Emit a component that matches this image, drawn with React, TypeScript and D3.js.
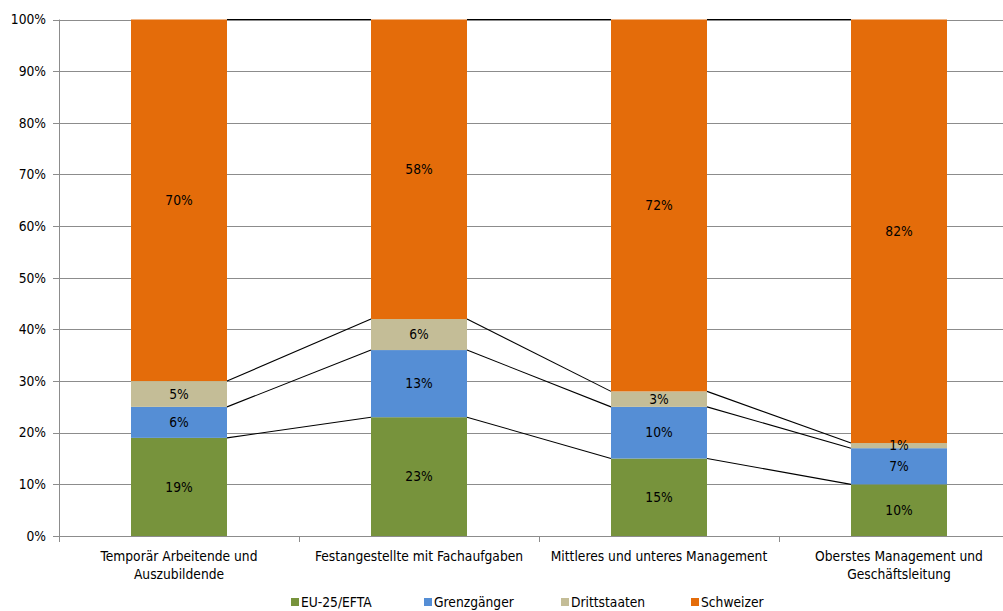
import React from "react";
import * as d3 from "d3";

const categories: string[][] = [
  ["Temporär Arbeitende und", "Auszubildende"],
  ["Festangestellte mit Fachaufgaben"],
  ["Mittleres und unteres Management"],
  ["Oberstes Management und", "Geschäftsleitung"],
];

const seriesNames = ["EU-25/EFTA", "Grenzgänger", "Drittstaaten", "Schweizer"];
const seriesColors = ["#77933C", "#558ED5", "#C4BD97", "#E46C0A"];

const euEfta = [19, 23, 15, 10];
const grenzgaenger = [6, 13, 10, 7];
const drittstaaten = [5, 6, 3, 1];
const schweizer = [70, 58, 72, 82];

const yTicks = [0, 10, 20, 30, 40, 50, 60, 70, 80, 90, 100];

const W = 1003;
const H = 611;
const left = 59;
const band = 240;
const top = 19.5;
const bottom = 536;
const fs = 13.7;
const font = "Tahoma, 'DejaVu Sans Condensed', 'DejaVu Sans', sans-serif";

export default function App() {
  const idx = categories.map((_, i) => String(i));
  const x = d3
    .scaleBand<string>()
    .domain(idx)
    .range([left, left + band * idx.length])
    .paddingInner(0.6)
    .paddingOuter(0.3);
  const y = d3.scaleLinear().domain([0, 100]).range([bottom, top]);

  const rows = idx.map((_, i) => ({
    key: i,
    s0: euEfta[i],
    s1: grenzgaenger[i],
    s2: drittstaaten[i],
    s3: schweizer[i],
  }));
  const stack = d3.stack<any>().keys(["s0", "s1", "s2", "s3"]);
  const layers = stack(rows);
  const bw = x.bandwidth();

  return (
    <svg
      width={W}
      height={H}
      style={{ position: "absolute", left: 0, top: 0, fontFamily: font }}
    >
      <rect width={W} height={H} fill="#fff" />
      {/* gridlines */}
      {yTicks.map((t) => (
        <line
          key={t}
          x1={left}
          x2={W}
          y1={Math.round(y(t)) + 0.5}
          y2={Math.round(y(t)) + 0.5}
          stroke="#8C8C8C"
          strokeWidth={1}
        />
      ))}
      {/* y axis */}
      <line x1={left + 0.5} x2={left + 0.5} y1={top} y2={bottom + 6} stroke="#8C8C8C" />
      {yTicks.map((t) => (
        <g key={"yt" + t}>
          <line
            x1={left - 6}
            x2={left}
            y1={Math.round(y(t)) + 0.5}
            y2={Math.round(y(t)) + 0.5}
            stroke="#8C8C8C"
          />
          <text
            x={46}
            y={y(t)}
            dy="0.35em"
            textAnchor="end"
            fontSize={fs}
            fill="#000"
          >
            {t}%
          </text>
        </g>
      ))}
      {/* category ticks */}
      {idx.map((k, i) => (
        <line
          key={"ct" + k}
          x1={left + band * (i + 1) + 0.5}
          x2={left + band * (i + 1) + 0.5}
          y1={bottom}
          y2={bottom + 6}
          stroke="#8C8C8C"
        />
      ))}
      {/* bars */}
      {layers.map((layer, si) =>
        layer.map((d, i) => (
          <rect
            key={si + "-" + i}
            x={x(String(i))!}
            y={y(d[1])}
            width={bw}
            height={y(d[0]) - y(d[1])}
            fill={seriesColors[si]}
          />
        ))
      )}
      {/* series lines between bars */}
      {layers.map((layer, si) =>
        layer.slice(0, -1).map((d, i) => (
          <line
            key={"sl" + si + "-" + i}
            x1={x(String(i))! + bw}
            y1={y(d[1])}
            x2={x(String(i + 1))!}
            y2={y(layer[i + 1][1])}
            stroke="#000"
            strokeWidth={1.1}
          />
        ))
      )}
      {/* value labels */}
      {layers.map((layer, si) =>
        layer.map((d, i) => (
          <text
            key={"vl" + si + "-" + i}
            x={x(String(i))! + bw / 2}
            y={(y(d[0]) + y(d[1])) / 2}
            dy="0.35em"
            textAnchor="middle"
            fontSize={fs}
            fill="#000"
          >
            {d[1] - d[0]}%
          </text>
        ))
      )}
      {/* category labels */}
      {categories.map((lines, i) => (
        <text
          key={"cl" + i}
          x={x(String(i))! + bw / 2}
          y={556}
          textAnchor="middle"
          fontSize={fs}
          fill="#000"
        >
          {lines.map((l, j) => (
            <tspan key={j} x={x(String(i))! + bw / 2} dy={j === 0 ? "0.35em" : 18}>
              {l}
            </tspan>
          ))}
        </text>
      ))}
      {/* legend */}
      {seriesNames.map((n, i) => {
        const lx = [291, 424, 561, 691][i];
        return (
          <g key={"lg" + n}>
            <rect x={lx} y={598} width={8} height={8} fill={seriesColors[i]} />
            <text x={lx + 10} y={607} fontSize={fs} fill="#000">
              {n}
            </text>
          </g>
        );
      })}
    </svg>
  );
}
